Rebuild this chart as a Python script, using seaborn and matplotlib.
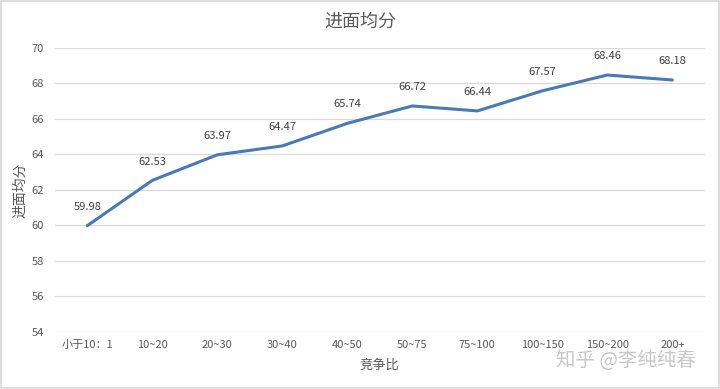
import matplotlib
matplotlib.use("Agg")
import matplotlib.pyplot as plt
import seaborn as sns
import pandas as pd

categories = ["小于10：1", "10~20", "20~30", "30~40", "40~50", "50~75", "75~100", "100~150", "150~200", "200+"]
values = [59.98, 62.53, 63.97, 64.47, 65.74, 66.72, 66.44, 67.57, 68.46, 68.18]
y_ticks = [54, 56, 58, 60, 62, 64, 66, 68, 70]

sns.set_theme(style="white")
plt.rcParams['font.family'] = ['Noto Sans CJK SC', 'DejaVu Sans']

df = pd.DataFrame({"cat": categories, "val": values})

fig = plt.figure(figsize=(7.2, 3.89), dpi=100)
ax = fig.add_axes([0.076, 0.1465, 0.903, 0.731])

sns.lineplot(data=df, x="cat", y="val", sort=False, ax=ax, color="#4a7ab5", linewidth=2.2)

ax.set_ylim(54, 70)
ax.set_xlim(-0.5, len(categories) - 0.5)
ax.set_yticks(y_ticks)
ax.set_yticklabels([str(t) for t in y_ticks])
ax.grid(axis="y", color="#d9d9d9", linewidth=0.9)
ax.set_axisbelow(True)
for s in ax.spines.values():
    s.set_visible(False)
ax.tick_params(axis="both", length=0, labelsize=8, colors="#595959")
ax.tick_params(axis="x", pad=6)
ax.tick_params(axis="y", pad=8)

for i, v in enumerate(values):
    ax.annotate(f"{v:.2f}", (i, v), xytext=(0, 10), textcoords="offset points",
                ha="center", va="bottom", fontsize=8, color="#404040")

ax.set_xlabel("竞争比", fontsize=9.5, color="#595959", labelpad=6)
ax.set_ylabel("进面均分", fontsize=10, color="#595959", labelpad=3)
fig.text(0.5, 0.945, "进面均分", ha="center", va="center", fontsize=13, color="#595959")

fig.text(0.87, 0.072, "知乎 @李纯纯春", ha="center", va="center", fontsize=14, color="#c8c8c8")

border = plt.Rectangle((0.002, 0.003), 0.996, 0.994, transform=fig.transFigure,
                       fill=False, edgecolor="#d9d9d9", linewidth=1.2)
fig.patches.append(border)

fig.savefig("out.png", dpi=100)
